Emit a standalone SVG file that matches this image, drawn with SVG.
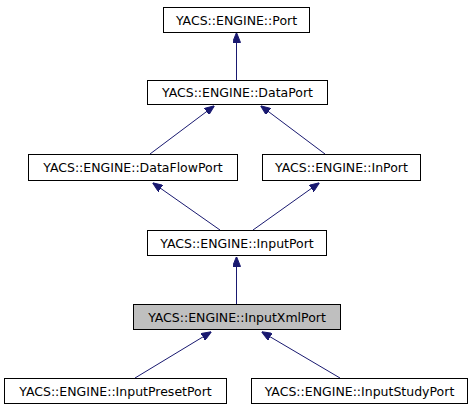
<svg xmlns="http://www.w3.org/2000/svg" width="474" height="411" viewBox="0 0 474 411">
<defs>
<style>
.n rect{fill:#fff;stroke:#000;stroke-width:1}
.n text{font-family:"DejaVu Sans",sans-serif;font-size:12.5px;text-anchor:middle;fill:#000}
.e{stroke:#191970;stroke-width:1;fill:none;marker-end:url(#ah)}
</style>
<marker id="ah" viewBox="0 0 10 8" refX="9.5" refY="4" markerWidth="10" markerHeight="8" markerUnits="userSpaceOnUse" orient="auto">
<path d="M0,0 L10,4 L0,8 Z" fill="#191970" stroke="#191970"/>
</marker>
</defs>
<rect width="474" height="411" fill="#fff"/>
<g id="connectors">
<line class="e" x1="236.5" y1="80" x2="236.5" y2="33"/>
<line class="e" x1="150" y1="154" x2="214" y2="106"/>
<line class="e" x1="325" y1="154" x2="261" y2="106"/>
<line class="e" x1="220" y1="230" x2="153" y2="183"/>
<line class="e" x1="253" y1="230" x2="319" y2="183"/>
<line class="e" x1="236.5" y1="304" x2="236.5" y2="257"/>
<line class="e" x1="135" y1="378" x2="211" y2="332"/>
<line class="e" x1="340" y1="378" x2="262" y2="332"/>
</g>
<g id="port" class="n"><rect x="163.5" y="7.5" width="146" height="25"/><text x="236.5" y="24.5">YACS::ENGINE::Port</text></g>
<g id="dataport" class="n"><rect x="147.5" y="80.5" width="180" height="24"/><text x="237.5" y="97">YACS::ENGINE::DataPort</text></g>
<g id="dataflowport" class="n"><rect x="28.5" y="154.5" width="209" height="26"/><text x="133" y="172">YACS::ENGINE::DataFlowPort</text></g>
<g id="inport" class="n"><rect x="262.5" y="154.5" width="158" height="26"/><text x="341.5" y="172">YACS::ENGINE::InPort</text></g>
<g id="inputport" class="n"><rect x="147.5" y="230.5" width="179" height="25"/><text x="237" y="247.5">YACS::ENGINE::InputPort</text></g>
<g id="inputxmlport" class="n"><rect x="133.5" y="304.5" width="207" height="25" style="fill:#bfbfbf"/><text x="237" y="321.5">YACS::ENGINE::InputXmlPort</text></g>
<g id="inputpresetport" class="n"><rect x="4.5" y="378.5" width="222" height="25"/><text x="115.5" y="395.5">YACS::ENGINE::InputPresetPort</text></g>
<g id="inputstudyport" class="n"><rect x="251.5" y="378.5" width="216" height="25"/><text x="359.5" y="395.5">YACS::ENGINE::InputStudyPort</text></g>
</svg>
